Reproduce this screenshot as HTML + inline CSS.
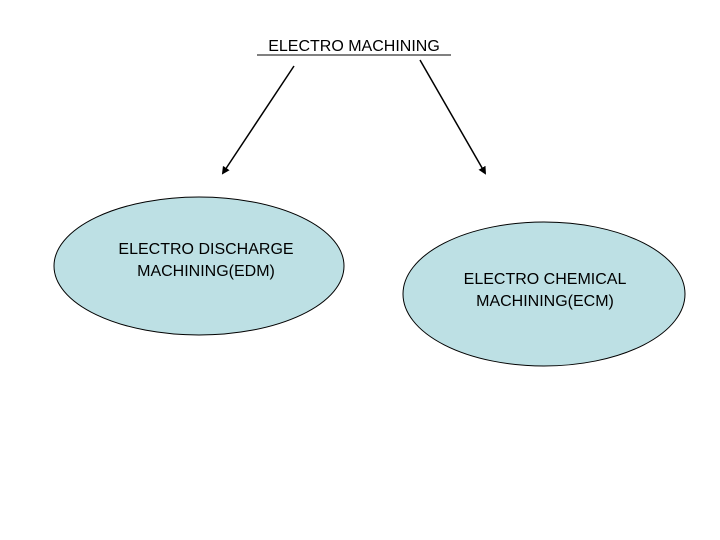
<!DOCTYPE html>
<html><head><meta charset="utf-8"><style>
html,body{margin:0;padding:0;background:#fff;}
svg{display:block;}
text{font-family:"Liberation Sans",Arial,sans-serif;font-size:16px;fill:#000;}
</style></head><body>
<svg width="720" height="540" viewBox="0 0 720 540" xmlns="http://www.w3.org/2000/svg">
<defs>
<marker id="ah" markerWidth="8" markerHeight="8" refX="6" refY="4" orient="auto" markerUnits="userSpaceOnUse">
<path d="M0,0 L8,4 L0,8 z" fill="#000"/>
</marker>
</defs>
<text x="354" y="51" text-anchor="middle">ELECTRO MACHINING</text>
<line x1="257" y1="55" x2="451" y2="55" stroke="#000" stroke-width="1"/>
<line x1="294" y1="66" x2="223" y2="173" stroke="#000" stroke-width="1.5" marker-end="url(#ah)"/>
<line x1="420" y1="60" x2="485" y2="173" stroke="#000" stroke-width="1.5" marker-end="url(#ah)"/>
<ellipse cx="199" cy="266" rx="145" ry="69" fill="#bde0e4" stroke="#000" stroke-width="1"/>
<text x="206" y="254" text-anchor="middle">ELECTRO DISCHARGE</text>
<text x="206" y="276" text-anchor="middle">MACHINING(EDM)</text>
<ellipse cx="544" cy="294" rx="141" ry="72" fill="#bde0e4" stroke="#000" stroke-width="1"/>
<text x="545" y="284" text-anchor="middle">ELECTRO CHEMICAL</text>
<text x="545" y="306" text-anchor="middle">MACHINING(ECM)</text>
</svg>
</body></html>
